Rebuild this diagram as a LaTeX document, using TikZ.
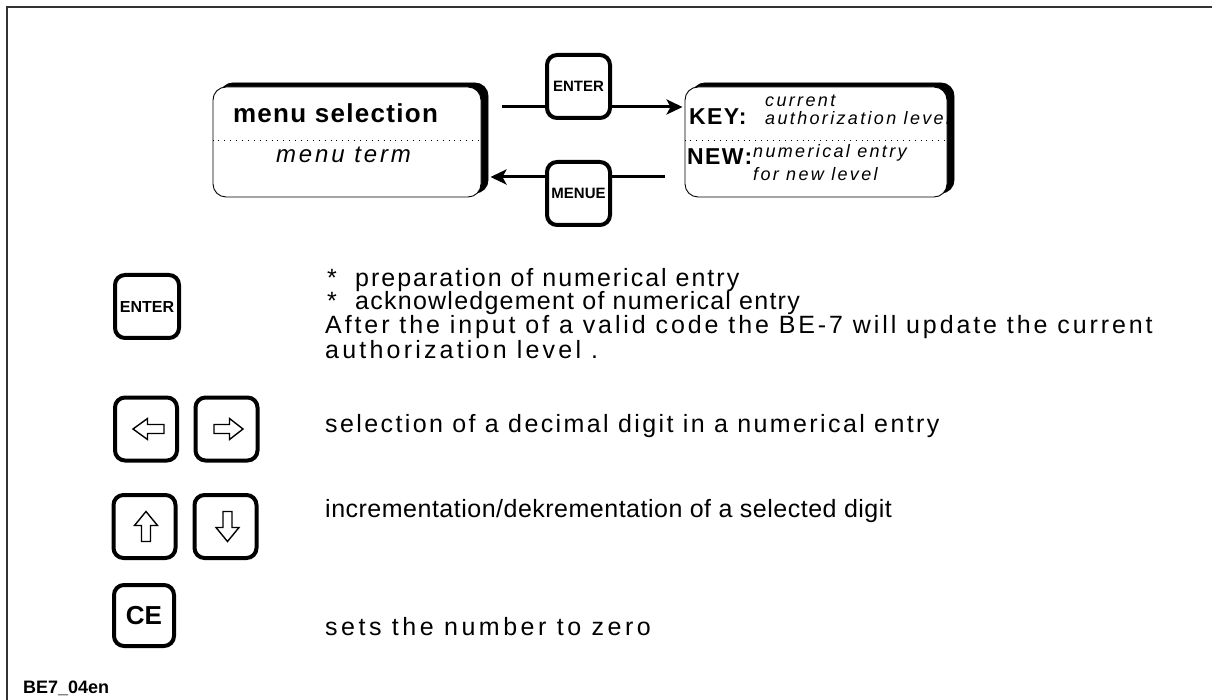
\documentclass[tikz,border=0pt]{standalone}
\usepackage{fontspec}
\setmainfont{Liberation Sans}
\usetikzlibrary{shadows,arrows.meta}
\newcommand\fs[1]{\fontsize{#1}{#1}\selectfont}
\newcommand\ls[1]{\addfontfeatures{LetterSpace=#1}}
\begin{document}
\begin{tikzpicture}[x=1pt,y=-1pt,
  frame/.style={line width=2pt, draw=black!80},
  keybox/.style={draw, line width=4pt, rounded corners=10pt, inner sep=0pt, fill=white, minimum width=63pt, minimum height=63pt},
  menubox/.style={draw, line width=0.9pt, rounded corners=13pt, fill=white, inner sep=0pt,
    copy shadow={shadow xshift=7pt, shadow yshift=4pt, fill=black, draw=black}},
  conn/.style={line width=3pt},
  tip/.style={-{Stealth[length=16pt,width=15pt,inset=4pt]}},
  sep/.style={line width=0.9pt, dash pattern=on 0.9pt off 5pt},
  txt/.style={anchor=base west, inner sep=0pt, font=\fs{25}\ls{10}},
  rtxt/.style={anchor=base west, inner sep=0pt, font=\fs{18}\itshape\ls{13}},
  bigkey/.style={anchor=base west, inner sep=0pt, font=\fs{23}\bfseries\ls{6}},
  keytxt/.style={font=\fs{15}\bfseries},
  hollow/.style={line width=1.4pt, line join=miter},
  pics/larr/.style={code={\draw[hollow] (-15.5,0) -- (-1,-10.5) -- (-1,-4.5) -- (15.5,-4.5) -- (15.5,4.5) -- (-1,4.5) -- (-1,10.5) -- cycle;}},
  pics/rarr/.style={code={\draw[hollow] (14.5,0) -- (1,-10.5) -- (1,-4.5) -- (-14.5,-4.5) -- (-14.5,4.5) -- (1,4.5) -- (1,10.5) -- cycle;}},
  pics/uarr/.style={code={\draw[hollow] (0,-15) -- (-11.5,-1) -- (-4.5,-1) -- (-4.5,15) -- (4.5,15) -- (4.5,-1) -- (11.5,-1) -- cycle;}},
  pics/darr/.style={code={\draw[hollow] (0,15) -- (-11.5,1) -- (-4.5,1) -- (-4.5,-15) -- (4.5,-15) -- (4.5,1) -- (11.5,1) -- cycle;}}
]
\useasboundingbox (0,0) rectangle (1212,700);
% frame
\coordinate (fTR) at (1212,7.5);
\coordinate (fTL) at (6.5,7.5);
\coordinate (fBL) at (6.5,700);
\draw[frame] (fTR) -- (fTL) -- (fBL);

% menu boxes
\node[menubox, minimum width=268pt, minimum height=110pt] (lbox) at (347,142) {};
\node[menubox, minimum width=262pt, minimum height=110pt] (rbox) at (816,142) {};
\draw[sep] (lbox.west |- 0,140) -- (lbox.east |- 0,140);
\draw[sep] (rbox.west |- 0,140) -- (rbox.east |- 0,140);

\node[anchor=base, inner sep=0pt, font=\fs{26}\bfseries\ls{5}] (lt1) at (335.5,123) {menu selection};
\node[anchor=base, inner sep=0pt, font=\fs{24}\itshape\ls{12}] (lt2) at (343.5,163) {menu term};

\node[bigkey] (key) at (689,125) {KEY:};
\node[rtxt] (cur) at (765,107) {current};
\node[rtxt] (auth) at (765,125) {authorization level};
\node[bigkey] (new) at (687,165) {NEW:};
\node[rtxt] (num) at (753,158) {numerical entry};
\node[rtxt] (fnl) at (753,181) {for new level};

% keys on the connectors
\node[keybox] (kenter) at (578.5,86.5) {};
\node[keytxt] at (kenter.center) {ENTER};
\node[keybox] (kmenue) at (578.5,193.5) {};
\node[keytxt] at (kmenue.center) {MENUE};

\coordinate (c1) at (502,107);
\coordinate (c2) at (665,177);
\draw[conn] (c1) -- (c1 -| kenter.west);
\draw[conn,tip] (c1 -| kenter.east) -- ([xshift=-2pt]c1 -| rbox.west);
\draw[conn] (c2) -- (c2 -| kmenue.east);
\draw[conn,tip] (c2 -| kmenue.west) -- ([xshift=9pt]c2 -| lbox.east);

% key legend
\node[keybox, minimum width=64pt] (k2enter) at (147,306.5) {};
\node[keytxt, font=\fs{16}\bfseries] at (k2enter.center) {ENTER};
\node[keybox, minimum width=62pt] (kleft) at (146,429) {};
\node[keybox, minimum width=62pt] (kright) at (226.5,429) {};
\node[keybox, minimum width=62pt] (kup) at (144.5,526.5) {};
\node[keybox, minimum width=62pt] (kdown) at (225.5,526.5) {};
\node[keybox, minimum width=60pt, minimum height=61pt] (kce) at (144,615.5) {};
\node[font=\fs{26}\bfseries] at (kce.center) {CE};
\pic at ([xshift=2.5pt]kleft.center) {larr};
\pic at ([xshift=2pt]kright.center) {rarr};
\pic at ([xshift=1.5pt]kup.center) {uarr};
\pic at ([xshift=2pt]kdown.center) {darr};

\node[txt] (s1) at (327,287) {*};
\node[txt, font=\fs{25}\ls{8}] (t1) at (355,287) {preparation of numerical entry};
\node[txt] (s2) at (327,310) {*};
\node[txt, font=\fs{25}\ls{5}] (t2) at (355,310) {acknowledgement of numerical entry};
\node[txt, font=\fs{25}\ls{11.6}] (t3) at (325,334) {After the input of a valid code the BE-7 will update the current};
\node[txt, font=\fs{25}\ls{12.8}] (t4) at (325,358) {authorization level .};
\node[txt, font=\fs{25}\ls{9.6}] (t5) at (325,432) {selection of a decimal digit in a numerical entry};
\node[txt, font=\fs{25}\ls{2}] (t6) at (325,517) {incrementation/dekrementation of a selected digit};
\node[txt, font=\fs{25}\ls{14}] (t7) at (325,635) {sets the number to zero};

\node[anchor=base west, inner sep=0pt, font=\fs{18}\bfseries] (code) at (23,693) {BE7\_04en};
\end{tikzpicture}
\end{document}
